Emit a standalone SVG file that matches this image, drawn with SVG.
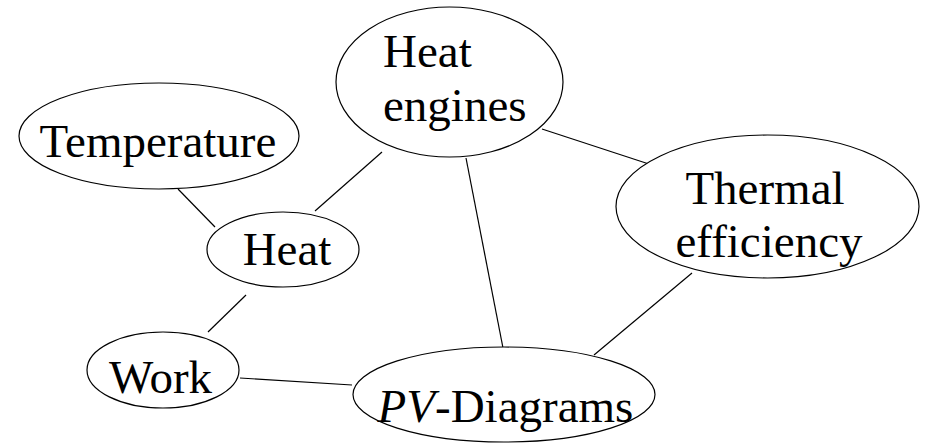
<svg xmlns="http://www.w3.org/2000/svg" width="927" height="443" viewBox="0 0 927 443">
<style>
.n{fill:#fff;stroke:#000;stroke-width:1.2}
.t{font-family:"Liberation Serif","Times New Roman",serif;font-size:47px;fill:#000}
.c line{stroke:#000;stroke-width:1.2}
</style>
<rect width="927" height="443" fill="#fff"/>
<g id="connectors" class="c">
<line x1="178" y1="189" x2="215" y2="227"/>
<line x1="382" y1="152" x2="315" y2="211"/>
<line x1="246" y1="295" x2="208" y2="332"/>
<line x1="240" y1="378" x2="352" y2="385"/>
<line x1="466" y1="158" x2="503" y2="348"/>
<line x1="542" y1="129" x2="655" y2="166"/>
<line x1="692" y1="273" x2="594" y2="355"/>
</g>
<g id="temperature"><ellipse class="n" cx="159" cy="136" rx="140" ry="53"/><text class="t" x="158" y="157" text-anchor="middle">Temperature</text></g>
<g id="heat-engines"><ellipse class="n" cx="449.5" cy="82" rx="113.5" ry="75"/><text class="t" x="383" y="67">Heat</text><text class="t" x="383" y="121">engines</text></g>
<g id="heat"><ellipse class="n" cx="283" cy="249.5" rx="76" ry="37.5"/><text class="t" x="287" y="265" text-anchor="middle">Heat</text></g>
<g id="thermal-efficiency"><ellipse class="n" cx="767.5" cy="206.5" rx="151.5" ry="71.5"/><text class="t" x="765" y="204" text-anchor="middle">Thermal</text><text class="t" x="769" y="257" text-anchor="middle">efficiency</text></g>
<g id="work"><ellipse class="n" cx="163" cy="370" rx="76" ry="38"/><text class="t" x="160.5" y="393" text-anchor="middle">Work</text></g>
<g id="pv-diagrams"><ellipse class="n" cx="504" cy="394.5" rx="151" ry="47.5"/><text class="t" x="505.5" y="422" text-anchor="middle"><tspan font-style="italic">PV</tspan>-Diagrams</text></g>
</svg>
